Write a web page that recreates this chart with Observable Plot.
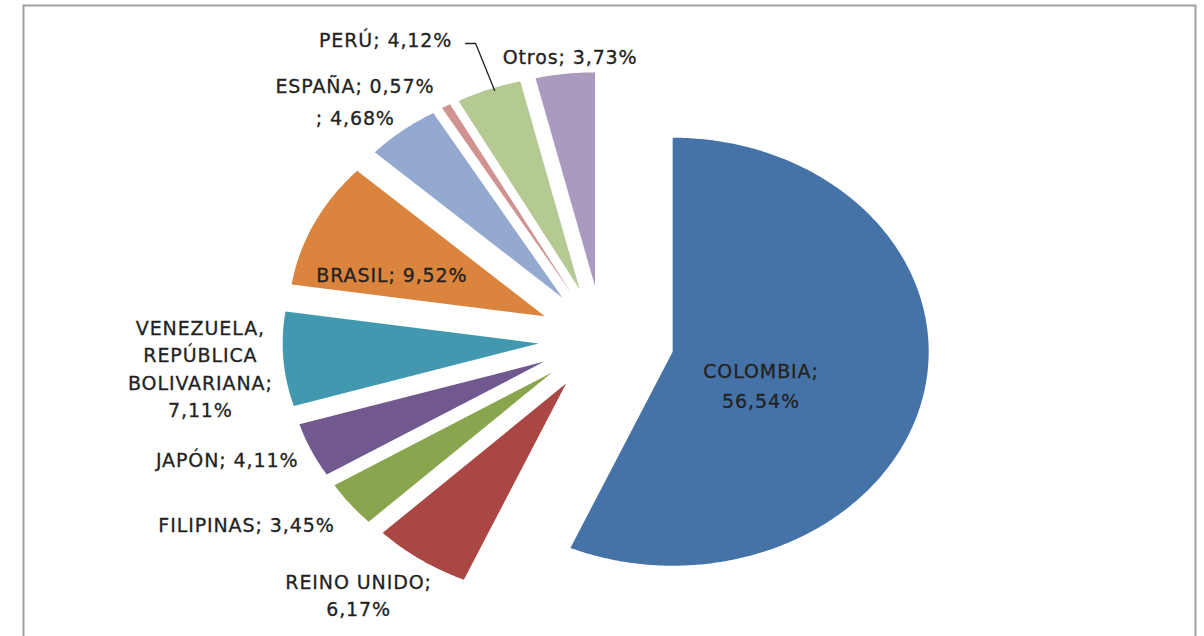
<!DOCTYPE html>
<html><head><meta charset="utf-8">
<script src="https://cdn.jsdelivr.net/npm/d3@7"></script>
<script src="https://cdn.jsdelivr.net/npm/@observablehq/plot@0.6"></script>
<style>body{margin:0;background:#fff;overflow:hidden}</style>
</head><body><div id="chart"></div>
<script>
// ---- data ----
const countries = ["COLOMBIA","REINO UNIDO","FILIPINAS","JAPÓN","VENEZUELA, REPÚBLICA BOLIVARIANA","BRASIL","","ESPAÑA","PERÚ","Otros"];
const shares = [56.54, 6.17, 3.45, 4.11, 7.11, 9.52, 4.68, 0.57, 4.12, 3.73];

// ---- style ----
const palette = ["#4572A7","#AA4643","#89A54E","#71588F","#4198AF","#DB843D","#93A9CF","#D09392","#B5CA92","#A99BBD"];
const W = 1204, H = 636;
const xDomain = [-602/256, 602/256];
const yDomain = [-(H-339)/214, 339/214];
const kx = W/(xDomain[1]-xDomain[0]), ky = H/(yDomain[1]-yDomain[0]);
const explodeFor = i => i === 0 ? 0.28 : 0.25;
// label placement: radius (from exploded apex) and pixel nudges
const labelStyle = [
  {r:0.5, dx:-37, dy:10, lh:1.58},
  {r:1, dx:-62, dy:34, lh:1.45},
  {r:1, dx:-104, dy:19, lh:1.45},
  {r:1, dx:-84, dy:8, lh:1.45},
  {r:1, dx:-83, dy:8, lh:1.45},
  {r:0.65, dx:-3, dy:17, lh:1.45},
  {r:1, dx:-47, dy:-15, lh:1.45},
  {r:1, dx:-91, dy:-22, lh:1.45},
  {r:1, dx:-103, dy:-51, lh:1.45},
  {r:1, dx:5, dy:-19, lh:1.45}
];
const fmt = v => v.toFixed(2).replace(".", ",") + "%";
function labelText(name, v) {
  if (name === "COLOMBIA" || name === "REINO UNIDO") return name + ";\n" + fmt(v);
  if (name.startsWith("VENEZUELA")) return name.replace(", ", ",\n").replace(" BOL", "\nBOL") + ";\n" + fmt(v);
  return name + "; " + fmt(v);
}

// ---- geometry from data ----
const total = d3.sum(shares);
let cum = 0;
const slices = countries.map((name, i) => {
  const a0 = cum/total*2*Math.PI; cum += shares[i]; const a1 = cum/total*2*Math.PI;
  const am = (a0+a1)/2, e = explodeFor(i);
  return {i, name, value: shares[i], a0, a1, am, ex: e*Math.sin(am), ey: e*Math.cos(am)};
});
const pts = [];
for (const s of slices) {
  pts.push({i: s.i, x: s.ex, y: s.ey});
  const n = Math.max(2, Math.ceil((s.a1-s.a0)/(Math.PI/360)));
  for (let k = 0; k <= n; k++) {
    const a = s.a0 + (s.a1-s.a0)*k/n;
    pts.push({i: s.i, x: s.ex + Math.sin(a), y: s.ey + Math.cos(a)});
  }
  pts.push({i: s.i, x: s.ex, y: s.ey});
}
const labels = slices.map(s => {
  const st = labelStyle[s.i];
  return {...s, text: labelText(s.name, s.value),
    lx: s.ex + st.r*Math.sin(s.am), ly: s.ey + st.r*Math.cos(s.am), dx: st.dx, dy: st.dy, lh: st.lh};
});
// leader line for PERÚ
const peru = labels[8];
const leaderOffsets = [[-23,-46],[-13,-46],[6,1]];
const leader = leaderOffsets.map(([ox, oy]) => ({x: peru.lx + ox/kx, y: peru.ly - oy/ky}));

const chart = Plot.plot({
  width: W, height: H, margin: 0,
  x: {domain: xDomain, axis: null},
  y: {domain: yDomain, axis: null},
  color: {type: "ordinal", domain: d3.range(countries.length), range: palette},
  style: "font-family: 'DejaVu Sans', sans-serif; letter-spacing: 0.9px; background: #fff;",
  marks: [
    Plot.frame({stroke: "#a0a0a0", strokeWidth: 2, insetLeft: 23, insetTop: 5, insetRight: 9, insetBottom: -10}),
    Plot.line(pts, {x: "x", y: "y", z: "i", fill: "i", stroke: "none", curve: "linear"}),
    Plot.line(leader, {x: "x", y: "y", stroke: "#222", strokeWidth: 1.3}),
    ...labels.map(l => Plot.text([l], {x: "lx", y: "ly", text: "text", dx: l.dx, dy: l.dy,
      fontSize: 19, fill: "#222", stroke: "#222", strokeWidth: 0.3, lineHeight: l.lh, textAnchor: "middle"}))
  ]
});
document.getElementById("chart").appendChild(chart);
</script>
</body></html>
